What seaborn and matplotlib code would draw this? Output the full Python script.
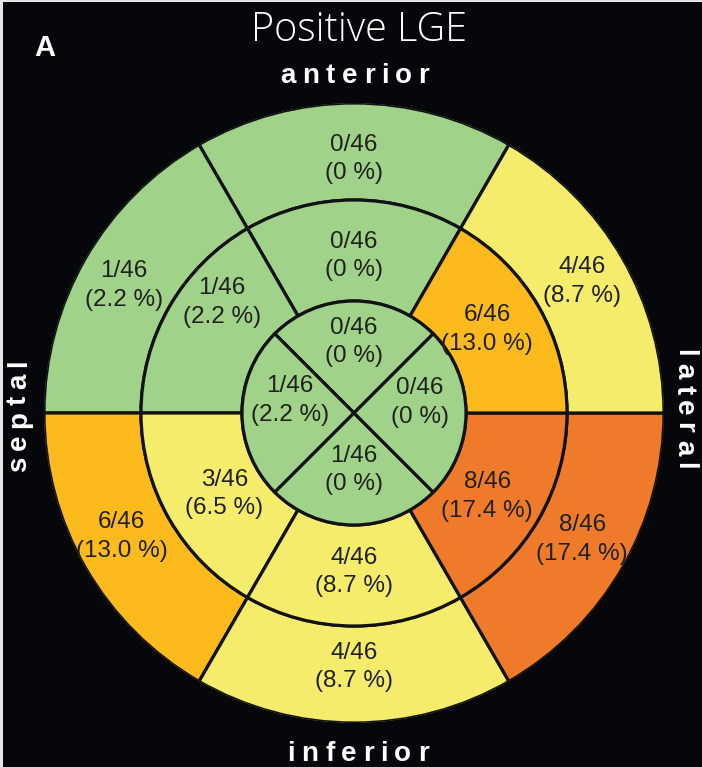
import numpy as np
import matplotlib
matplotlib.use("Agg")
import matplotlib.pyplot as plt
import seaborn as sns
from matplotlib.font_manager import FontProperties
from matplotlib.patches import Rectangle

# ---- data: patients with positive LGE per AHA segment (n = 46) ----
n_total = 46
# basal / mid order: anterior, anteroseptal, inferoseptal, inferior, inferolateral, anterolateral
basal_counts = [0, 1, 6, 4, 8, 4]
basal_pct = ["0", "2.2", "13.0", "8.7", "17.4", "8.7"]
mid_counts = [0, 1, 3, 4, 8, 6]
mid_pct = ["0", "2.2", "6.5", "8.7", "17.4", "13.0"]
# apical order: anterior, septal, inferior, lateral
apical_counts = [0, 1, 1, 0]
apical_pct = ["0", "2.2", "0", "0"]

wall_labels = ["anterior", "septal", "inferior", "lateral"]
title_text = "Positive LGE"
panel_text = "A"

# colour classes by number of positive patients
class_edges = [2, 5, 7]
class_colors = ["#A0D389", "#F6EC6B", "#FDBA1C", "#EF7B2A"]

# ---- layout ----
W, H = 702, 767
cx, cy = 354, 413
r_apex, r_mid, r_base = 112, 213, 310
six_centers = [90, 150, 210, 270, 330, 30]
four_centers = [90, 180, 270, 0]
# label anchor (angle in degrees, radius in px)
basal_lab = [(90, 254), (151, 263), (208, 263), (270, 254), (331, 261), (30, 263)]
mid_lab = [(90, 157), (140, 172), (212, 153), (270, 159), (328, 157), (32, 157)]
apical_lab = [(90, 71), (169, 65), (270, 57), (9, 67)]

bg = "#05070a"
edge = "#121212"
txt_color = "#1f211d"

sns.set_theme(style="white")
palette = sns.color_palette(class_colors)
plt.rcParams["font.family"] = ["Liberation Sans", "DejaVu Sans"]

fig = plt.figure(figsize=(W / 100, H / 100), dpi=100, facecolor=bg)

ax = fig.add_axes([(cx - r_base) / W, (H - cy - r_base) / H,
                   2 * r_base / W, 2 * r_base / H], projection="polar")
ax.set_ylim(0, r_base)
ax.set_axis_off()


def ring(counts, pcts, centers, width_deg, bottom, top, labs):
    cls = np.digitize(counts, class_edges)
    cols = [palette[c] for c in cls]
    ax.bar(np.deg2rad(centers), top - bottom, width=np.deg2rad(width_deg),
           bottom=bottom, color=cols, edgecolor=edge, linewidth=2.3,
           align="center")
    for c, p, (ang, rr) in zip(counts, pcts, labs):
        ax.text(np.deg2rad(ang), rr, f"{c}/{n_total}\n({p} %)",
                ha="center", va="center", fontsize=17.5, color=txt_color,
                linespacing=1.4)


ring(basal_counts, basal_pct, six_centers, 60, r_mid, r_base, basal_lab)
ring(mid_counts, mid_pct, six_centers, 60, r_apex, r_mid, mid_lab)
ring(apical_counts, apical_pct, four_centers, 90, 0, r_apex, apical_lab)

# overlay in pixel coordinates for the surrounding labels
ov = fig.add_axes([0, 0, 1, 1])
ov.set_xlim(0, W)
ov.set_ylim(H, 0)
ov.set_axis_off()
ov.patch.set_alpha(0)

renderer = fig.canvas.get_renderer()
wall_fp = FontProperties(family="Liberation Sans", weight="bold", size=20)


def text_w(s, fp):
    w, h, d = renderer.get_text_width_height_descent(s, fp, ismath=False)
    return w


def tracked(s, xc, yc, tracking, rotation=0):
    total = text_w(s, wall_fp) + tracking * (len(s) - 1)
    starts = [text_w(s[:i + 1], wall_fp) - text_w(s[i], wall_fp) + tracking * i
              for i in range(len(s))]
    for ch, st in zip(s, starts):
        if rotation == 0:
            x, y = xc - total / 2 + st, yc
        elif rotation == 90:
            x, y = xc, yc + total / 2 - st
        else:
            x, y = xc, yc - total / 2 + st
        ov.text(x, y, ch, fontproperties=wall_fp, color="white",
                rotation=rotation, rotation_mode="anchor",
                ha="left", va="baseline")


tracked(wall_labels[0], 355, 83, 6.5)
tracked(wall_labels[2], 358, 761, 6.5)
tracked(wall_labels[1], 26, 416, 6.5, rotation=90)
tracked(wall_labels[3], 677, 409, 6.5, rotation=-90)

ov.text(359, 41, title_text, ha="center", va="baseline", color="white",
        fontsize=28.5, family=["Open Sans", "DejaVu Sans"], fontweight="light")
ov.text(45, 56, panel_text, ha="center", va="baseline", color="white",
        fontsize=21, fontweight="bold")

# thin light frame along the top and left edges
fig.add_artist(Rectangle((0, 1 - 2 / H), 1, 2 / H, transform=fig.transFigure,
                         color="#e6e6e6", lw=0))
fig.add_artist(Rectangle((0, 0), 3 / W, 1, transform=fig.transFigure,
                         color="#e6e6e6", lw=0))

fig.savefig("out.png", dpi=100, facecolor=bg)
